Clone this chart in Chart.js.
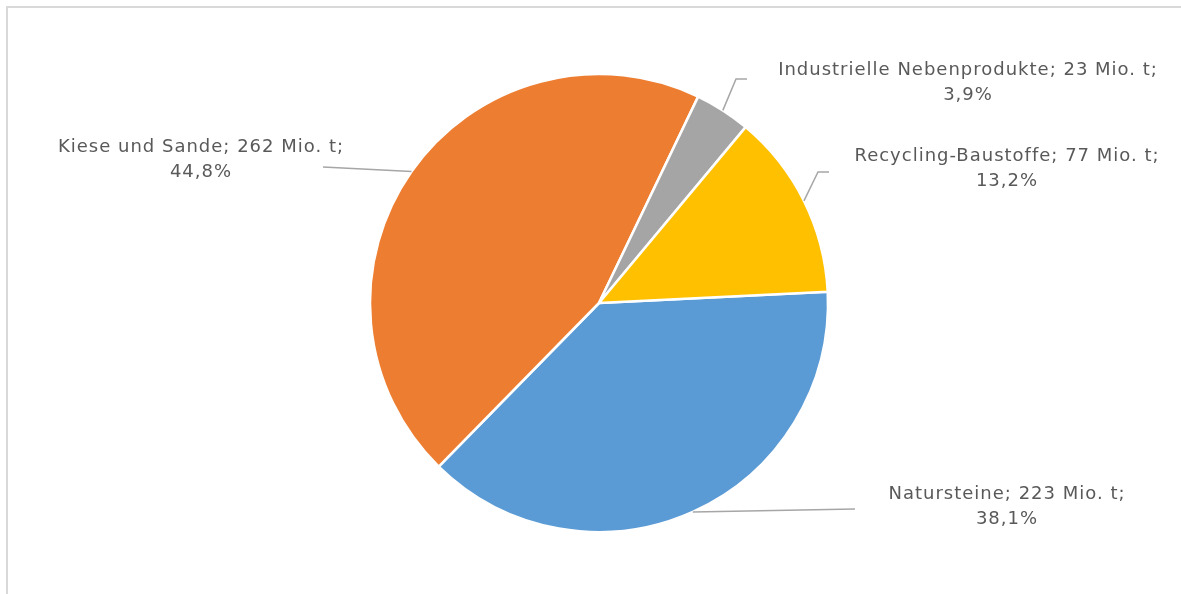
<!DOCTYPE html>
<html>
<head>
<meta charset="utf-8">
<script src="https://cdn.jsdelivr.net/npm/chart.js@4/dist/chart.umd.min.js"></script>
<style>
  html, body { margin: 0; padding: 0; background: #fff; }
  #wrap { position: relative; width: 1181px; height: 594px; }
</style>
</head>
<body>
<div id="wrap"><canvas id="c"></canvas></div>
<script>
/* Gesteinskörnungen — Anteile nach Herkunft (Mio. t) */
var categories = ['Natursteine', 'Kiese und Sande', 'Industrielle Nebenprodukte', 'Recycling-Baustoffe'];
var valuesMt = [223, 262, 23, 77];
var pctLabels = ['38,1%', '44,8%', '3,9%', '13,2%'];
var sliceColors = ['#5B9BD5', '#ED7D31', '#A5A5A5', '#FFC000'];

var FONT = '"DejaVu Sans", "Open Sans", sans-serif';
var TEXT = '#595959';
var LEADER = '#a6a6a6';

// label placement (text centre of first line) + elbow of the leader line
var LABEL_POS = [
  { x: 1007, y: 494, elbow: [[855, 509]] },
  { x: 201,  y: 147, elbow: [[323, 167]] },
  { x: 968,  y: 70,  elbow: [[736, 79], [747, 79]] },
  { x: 1007, y: 156, elbow: [[818, 172], [829, 172]] }
];

var frame = {
  id: 'frame',
  beforeDraw: function (chart) {
    var ctx = chart.ctx;
    ctx.save();
    ctx.strokeStyle = '#d9d9d9';
    ctx.lineWidth = 2;
    ctx.beginPath();
    ctx.moveTo(7, chart.height + 2);
    ctx.lineTo(7, 7);
    ctx.lineTo(chart.width + 2, 7);
    ctx.stroke();
    ctx.restore();
  }
};

var outsideLabels = {
  id: 'outsideLabels',
  afterDatasetsDraw: function (chart) {
    var ctx = chart.ctx;
    var meta = chart.getDatasetMeta(0);
    ctx.save();
    meta.data.forEach(function (arc, i) {
      var p = LABEL_POS[i];
      var mid = (arc.startAngle + arc.endAngle) / 2;
      var sx = arc.x + Math.cos(mid) * arc.outerRadius;
      var sy = arc.y + Math.sin(mid) * arc.outerRadius;
      ctx.strokeStyle = LEADER;
      ctx.lineWidth = 1.5;
      ctx.beginPath();
      ctx.moveTo(sx, sy);
      p.elbow.forEach(function (pt) { ctx.lineTo(pt[0], pt[1]); });
      ctx.stroke();

      ctx.fillStyle = TEXT;
      ctx.font = '18px ' + FONT;
      ctx.letterSpacing = '1px';
      ctx.textAlign = 'center';
      ctx.textBaseline = 'middle';
      ctx.fillText(categories[i] + '; ' + valuesMt[i] + ' Mio. t;', p.x, p.y);
      ctx.fillText(pctLabels[i], p.x, p.y + 25);
    });
    ctx.restore();
  }
};

new Chart(document.getElementById('c').getContext('2d'), {
  type: 'pie',
  data: {
    labels: categories,
    datasets: [{
      data: valuesMt,
      backgroundColor: sliceColors,
      borderColor: '#ffffff',
      borderWidth: 2.5
    }]
  },
  options: {
    responsive: true,
    maintainAspectRatio: false,
    animation: false,
    rotation: 87.2,
    radius: 229,
    layout: { padding: { left: 17, right: 0, top: 12, bottom: 0 } },
    plugins: {
      legend: { display: false },
      tooltip: { enabled: false }
    }
  },
  plugins: [frame, outsideLabels]
});
</script>
</body>
</html>
